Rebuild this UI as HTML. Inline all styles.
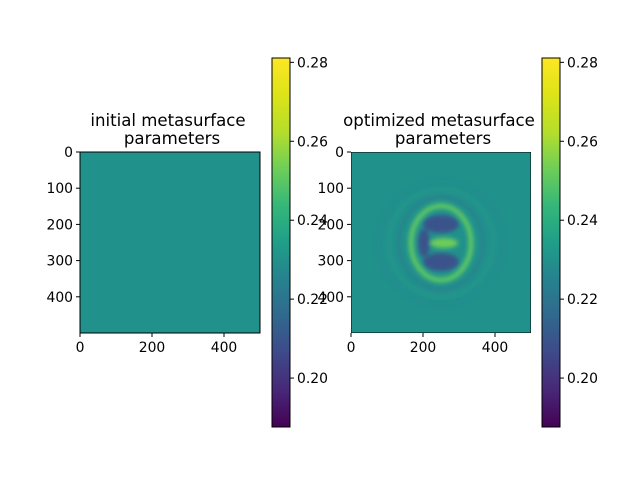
<!DOCTYPE html>
<html><head><meta charset="utf-8"><style>
body{margin:0;background:#fff;width:640px;height:480px;overflow:hidden}
svg text{font-family:"DejaVu Sans","Liberation Sans",sans-serif;font-size:13.9px;fill:#000}
svg text.title{font-size:16.6px}
</style></head><body>
<svg id="fig" width="640" height="480">
<defs>
<linearGradient id="vir" x1="0" y1="1" x2="0" y2="0">
<stop offset="0" stop-color="#440154"/><stop offset="0.1" stop-color="#482878"/>
<stop offset="0.2" stop-color="#3e4989"/><stop offset="0.3" stop-color="#31688e"/>
<stop offset="0.4" stop-color="#26828e"/><stop offset="0.5" stop-color="#1f9e89"/>
<stop offset="0.6" stop-color="#35b779"/><stop offset="0.7" stop-color="#6ece58"/>
<stop offset="0.8" stop-color="#b5de2b"/><stop offset="0.9" stop-color="#dde318"/>
<stop offset="1" stop-color="#fde725"/></linearGradient>
<filter id="bl"><feGaussianBlur stdDeviation="2"/></filter>
<clipPath id="cr"><rect x="351" y="152" width="180" height="181"/></clipPath>
</defs>
<text class="title" x="168" y="126" text-anchor="middle">initial metasurface</text>
<text class="title" x="172" y="144" text-anchor="middle">parameters</text>
<text class="title" x="439" y="126" text-anchor="middle">optimized metasurface</text>
<text class="title" x="443" y="144" text-anchor="middle">parameters</text>
<rect x="80" y="152" width="180" height="181" fill="#21918c" stroke="#000"/>
<g clip-path="url(#cr)">
<rect x="351" y="152" width="180" height="181" fill="#21918c"/>
<g filter="url(#bl)">
<ellipse cx="441" cy="243" rx="62" ry="62" fill="none" stroke="#2a7f8e" stroke-width="2" opacity="0.4"/>
<ellipse cx="441" cy="243" rx="52" ry="54" fill="none" stroke="#2aa086" stroke-width="2" opacity="0.5"/>
<ellipse cx="441" cy="243" rx="42" ry="46" fill="none" stroke="#31688e" stroke-width="2" opacity="0.6"/>
<ellipse cx="441" cy="243" rx="30" ry="37" fill="none" stroke="#5ec962" stroke-width="5"/>
<ellipse cx="441" cy="224" rx="18" ry="9" fill="#3b528b"/>
<ellipse cx="441" cy="262" rx="18" ry="9" fill="#3b528b"/>
<ellipse cx="424" cy="243" rx="6" ry="14" fill="#3b528b"/>
<ellipse cx="444" cy="243" rx="14" ry="5" fill="#6ece58"/>
</g>
<rect x="351" y="152" width="180" height="181" fill="none" stroke="#000"/>
</g>
<rect x="272" y="58" width="18" height="369" fill="url(#vir)" stroke="#000"/>
<rect x="542" y="58" width="18" height="369" fill="url(#vir)" stroke="#000"/>
<g id="ticks"></g>
</svg>
<script>
const axTicks=[0,100,200,300,400];
const xTicks=[0,200,400];
const cbTicks=[0.20,0.22,0.24,0.26,0.28];
const cbMin=0.1876, cbMax=0.2811;
const ns="http://www.w3.org/2000/svg";
const g=document.getElementById('ticks');
function el(t,a,txt){const e=document.createElementNS(ns,t);for(const k in a)e.setAttribute(k,a[k]);if(txt!==undefined)e.textContent=txt;g.appendChild(e);return e;}
const px=v=>v/500*180, py=v=>v/500*181;
const cy=v=>427-(v-cbMin)/(cbMax-cbMin)*369;
[80,351].forEach(x0=>{
 axTicks.forEach(v=>{
  const y=152+py(v);
  const l=el('line',{x1:x0-4,x2:x0,y1:y,y2:y,stroke:'#000'});
  
  
  const t=el('text',{x:x0-7,y:y+5,'text-anchor':'end'},String(v));
  
  
 });
 xTicks.forEach(v=>{
  const x=x0+px(v);
  const l=el('line',{x1:x,x2:x,y1:333,y2:337,stroke:'#000'});
  
  
  const t=el('text',{x:x,y:352,'text-anchor':'middle'},String(v));
  
  
 });
});
[290,560].forEach(x0=>{
 cbTicks.forEach(v=>{
  const y=cy(v);
  const l=el('line',{x1:x0,x2:x0+4,y1:y,y2:y,stroke:'#000'});
  
  
  const t=el('text',{x:x0+7,y:y+5},v.toFixed(2));
  
  
 });
});
</script>
</body></html>
